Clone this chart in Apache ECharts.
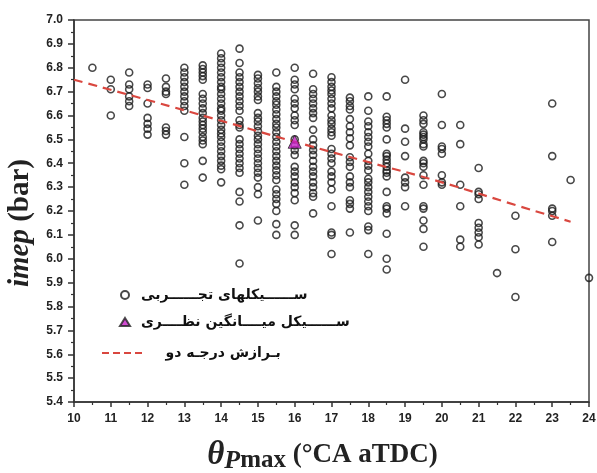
<!DOCTYPE html>
<html>
<head>
<meta charset="utf-8">
<script src="https://cdn.jsdelivr.net/npm/echarts@6/dist/echarts.min.js"></script>
<style>
html,body{margin:0;padding:0;background:#fff;}
#chart{width:597px;height:473px;}
</style>
</head>
<body>
<div id="chart"></div>
<script>
// Experimental cycles: one array of imep values per theta_Pmax column
const col_10_5 = [6.80];
const col_11 = [6.75, 6.71, 6.60];
const col_11_5 = [6.78, 6.73, 6.71, 6.68, 6.66, 6.64];
const col_12 = [6.73, 6.715, 6.65, 6.59, 6.565, 6.545, 6.52];
const col_12_5 = [6.755, 6.72, 6.70, 6.69, 6.55, 6.535, 6.52];
const col_13 = [6.80, 6.78, 6.76, 6.74, 6.72, 6.70, 6.68, 6.66, 6.64, 6.62, 6.51, 6.40, 6.31];
const col_13_5 = [6.81, 6.795, 6.78, 6.765, 6.75, 6.69, 6.67, 6.65, 6.63, 6.61, 6.59, 6.575, 6.56, 6.545, 6.53, 6.51, 6.495, 6.48, 6.41, 6.34];
const col_14 = [6.86, 6.84, 6.82, 6.80, 6.78, 6.76, 6.74, 6.72, 6.71, 6.69, 6.67, 6.65, 6.63, 6.62, 6.60, 6.58, 6.56, 6.54, 6.525, 6.51, 6.49, 6.47, 6.45, 6.43, 6.41, 6.39, 6.375, 6.32];
const col_14_5 = [6.88, 6.82, 6.78, 6.76, 6.74, 6.72, 6.70, 6.68, 6.66, 6.64, 6.62, 6.58, 6.56, 6.55, 6.50, 6.48, 6.46, 6.44, 6.42, 6.40, 6.38, 6.36, 6.28, 6.24, 6.14, 5.98];
const col_15 = [6.77, 6.755, 6.735, 6.715, 6.70, 6.68, 6.665, 6.61, 6.59, 6.575, 6.555, 6.535, 6.515, 6.50, 6.48, 6.46, 6.44, 6.42, 6.40, 6.38, 6.36, 6.34, 6.30, 6.27, 6.16];
const col_15_5 = [6.78, 6.72, 6.70, 6.68, 6.66, 6.645, 6.625, 6.605, 6.585, 6.565, 6.55, 6.53, 6.51, 6.49, 6.47, 6.45, 6.43, 6.41, 6.39, 6.37, 6.35, 6.33, 6.29, 6.27, 6.25, 6.23, 6.20, 6.145, 6.10];
const col_16 = [6.80, 6.75, 6.73, 6.71, 6.67, 6.65, 6.63, 6.60, 6.58, 6.56, 6.50, 6.475, 6.455, 6.435, 6.385, 6.365, 6.345, 6.32, 6.30, 6.275, 6.245, 6.14, 6.10];
const col_16_5 = [6.775, 6.71, 6.69, 6.67, 6.65, 6.63, 6.61, 6.59, 6.54, 6.50, 6.475, 6.455, 6.435, 6.41, 6.385, 6.365, 6.345, 6.32, 6.30, 6.275, 6.26, 6.19];
const col_17 = [6.76, 6.74, 6.72, 6.705, 6.69, 6.67, 6.65, 6.63, 6.60, 6.58, 6.565, 6.545, 6.53, 6.515, 6.46, 6.44, 6.42, 6.40, 6.365, 6.345, 6.32, 6.29, 6.22, 6.11, 6.10, 6.02];
const col_17_5 = [6.675, 6.66, 6.64, 6.625, 6.585, 6.555, 6.53, 6.505, 6.475, 6.425, 6.405, 6.385, 6.345, 6.32, 6.30, 6.245, 6.23, 6.21, 6.11];
const col_18 = [6.68, 6.62, 6.575, 6.555, 6.53, 6.51, 6.49, 6.47, 6.44, 6.41, 6.39, 6.37, 6.335, 6.32, 6.30, 6.28, 6.26, 6.24, 6.22, 6.20, 6.135, 6.12, 6.02];
const col_18_5 = [6.68, 6.595, 6.58, 6.565, 6.55, 6.50, 6.44, 6.43, 6.415, 6.40, 6.385, 6.37, 6.36, 6.345, 6.28, 6.22, 6.21, 6.19, 6.105, 6.00, 5.955];
const col_19 = [6.75, 6.545, 6.49, 6.43, 6.34, 6.32, 6.30, 6.22];
const col_19_5 = [6.60, 6.58, 6.565, 6.53, 6.52, 6.51, 6.50, 6.48, 6.47, 6.41, 6.40, 6.385, 6.35, 6.31, 6.22, 6.21, 6.16, 6.125, 6.05];
const col_20 = [6.69, 6.56, 6.47, 6.46, 6.44, 6.35, 6.32, 6.31];
const col_20_5 = [6.56, 6.48, 6.31, 6.22, 6.08, 6.05];
const col_21 = [6.38, 6.28, 6.27, 6.25, 6.15, 6.13, 6.11, 6.09, 6.06];
const col_21_5 = [5.94];
const col_22 = [6.18, 6.04, 5.84];
const col_23 = [6.65, 6.43, 6.21, 6.20, 6.18, 6.07];
const col_23_5 = [6.33];
const col_24 = [5.92];

const colX = [10.5, 11, 11.5, 12, 12.5, 13, 13.5, 14, 14.5, 15, 15.5, 16, 16.5, 17, 17.5, 18, 18.5, 19, 19.5, 20, 20.5, 21, 21.5, 22, 23, 23.5, 24];
const colY = [col_10_5, col_11, col_11_5, col_12, col_12_5, col_13, col_13_5, col_14, col_14_5, col_15, col_15_5, col_16, col_16_5, col_17, col_17_5, col_18, col_18_5, col_19, col_19_5, col_20, col_20_5, col_21, col_21_5, col_22, col_23, col_23_5, col_24];

// Theoretical mean cycle
const meanX = [16];
const meanY = [6.49];

// Second-degree fit curve
const fitX = [10, 12, 14, 16, 18, 20, 22, 23.5];
const fitY = [6.75, 6.665, 6.578, 6.49, 6.405, 6.32, 6.225, 6.155];

const xTicks = [10, 11, 12, 13, 14, 15, 16, 17, 18, 19, 20, 21, 22, 23, 24];
const yTicks = [5.4, 5.5, 5.6, 5.7, 5.8, 5.9, 6.0, 6.1, 6.2, 6.3, 6.4, 6.5, 6.6, 6.7, 6.8, 6.9, 7.0];

const legendNames = ['ســــــیکلهای تجــــــربی', 'ســــــیکل میــــانگین نظــــری', 'بـرازش درجـه دو'];

const expData = [];
colX.forEach((x, i) => colY[i].forEach(y => expData.push([x, y])));
const meanData = meanX.map((x, i) => [x, meanY[i]]);
const fitData = fitX.map((x, i) => [x, fitY[i]]);

const chart = echarts.init(document.getElementById('chart'), null, {renderer: 'canvas'});
const tickFont = {fontFamily: 'Liberation Sans, Arial, sans-serif', fontWeight: 'bold', fontSize: 12, color: '#222'};
const legendText = {fontFamily: 'DejaVu Sans', fontWeight: 'bold', fontSize: 14, color: '#111'};
const fitColor = '#d9473f';

chart.setOption({
  animation: false,
  backgroundColor: '#fff',
  grid: {left: 74, right: 8, top: 20, bottom: 71, containLabel: false, outerBoundsMode: 'none', show: true, borderColor: '#444', borderWidth: 1.5, backgroundColor: 'transparent'},
  legend: [
    {
      orient: 'vertical', left: 114, top: 283,
      itemWidth: 10, itemHeight: 8, itemGap: 13,
      textStyle: Object.assign({padding: [0, 0, 0, 6]}, legendText),
      data: [{name: legendNames[0]}, {name: legendNames[1]}]
    },
    {
      orient: 'vertical', left: 97, top: 341,
      itemWidth: 43, itemHeight: 2,
      textStyle: Object.assign({padding: [0, 0, 0, 17]}, legendText),
      data: [{
        name: legendNames[2],
        icon: 'path://M0,0h7v2h-7z M11,0h7v2h-7z M22,0h7v2h-7z M33,0h7v2h-7z',
        itemStyle: {color: fitColor, borderWidth: 0}
      }]
    }
  ],
  xAxis: {
    type: 'value', min: xTicks[0], max: xTicks[xTicks.length - 1], interval: 1,
    axisLine: {show: true, lineStyle: {color: '#333', width: 1.5}},
    axisTick: {show: true, length: 5, lineStyle: {color: '#333', width: 1.5}},
    minorTick: {show: true, splitNumber: 2, length: 3, lineStyle: {color: '#333', width: 1.2}},
    splitLine: {show: false},
    axisLabel: Object.assign({margin: 11}, tickFont),
    name: '{th|θ}{p|P}{m|max}{n| (°CA aTDC)}',
    nameLocation: 'middle', nameGap: 34,
    nameTextStyle: {
      rich: {
        th: {fontFamily: 'Liberation Serif', fontStyle: 'italic', fontWeight: 'bold', fontSize: 33, color: '#222'},
        p: {fontFamily: 'Liberation Serif', fontStyle: 'italic', fontWeight: 'bold', fontSize: 26, color: '#222', padding: [12, 0, 0, 0]},
        m: {fontFamily: 'Liberation Serif', fontWeight: 'bold', fontSize: 25, color: '#222', padding: [12, 0, 0, 0]},
        n: {fontFamily: 'Liberation Serif', fontWeight: 'bold', fontSize: 27, color: '#222', padding: [0, 18, 0, 0]}
      }
    }
  },
  yAxis: {
    type: 'value', min: yTicks[0], max: yTicks[yTicks.length - 1], interval: 0.1,
    axisLine: {show: true, lineStyle: {color: '#333', width: 1.5}},
    axisTick: {show: true, length: 6, lineStyle: {color: '#333', width: 1.5}},
    minorTick: {show: true, splitNumber: 2, length: 3, lineStyle: {color: '#333', width: 1.2}},
    splitLine: {show: false},
    axisLabel: Object.assign({margin: 11, formatter: v => v.toFixed(1)}, tickFont),
    name: '{i|imep}{n| (bar)}',
    nameLocation: 'middle', nameRotate: 90, nameGap: 39,
    nameTextStyle: {
      rich: {
        i: {fontFamily: 'Liberation Serif', fontStyle: 'italic', fontWeight: 'bold', fontSize: 29, color: '#222'},
        n: {fontFamily: 'Liberation Serif', fontWeight: 'bold', fontSize: 29, color: '#222', padding: [0, 24, 0, 0]}
      }
    }
  },
  series: [
    {
      name: legendNames[0], type: 'scatter', data: expData,
      symbol: 'circle', symbolSize: 7,
      itemStyle: {color: 'rgba(255,255,255,0)', borderColor: '#1a1a1a', borderWidth: 1.6},
      z: 3
    },
    {
      name: legendNames[1], type: 'scatter', data: meanData,
      symbol: 'triangle', symbolSize: 13,
      itemStyle: {color: '#c71fc7', borderColor: '#222', borderWidth: 1},
      z: 5
    },
    {
      name: legendNames[2], type: 'line', data: fitData,
      smooth: true, symbol: 'none', showSymbol: false,
      lineStyle: {color: fitColor, width: 2.2, type: [9, 6]},
      itemStyle: {color: fitColor},
      z: 4
    }
  ]
});
</script>
</body>
</html>
